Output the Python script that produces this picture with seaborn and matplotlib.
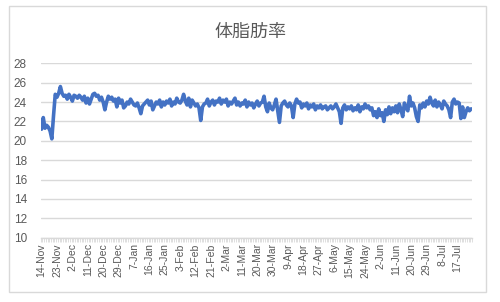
import matplotlib
matplotlib.use("Agg")
import matplotlib.pyplot as plt
import seaborn as sns
import pandas as pd
from matplotlib.patches import Rectangle

title = "体脂肪率"
start_date = "2018-11-14"
missing_dates = ["2019-03-25", "2019-04-04"]
y_ticks = [10, 12, 14, 16, 18, 20, 22, 24, 26, 28]
label_step = 9

body_fat = [
    21.2, 22.4, 21.3, 21.6, 21.4, 21.0, 20.2, 22.6, 24.8, 24.5, 24.9, 25.6,
    24.9, 24.6, 24.7, 24.3, 24.8, 24.5, 24.1, 24.7, 24.6, 24.4, 24.7, 24.5,
    24.2, 24.6, 23.9, 24.4, 23.8, 24.3, 24.8, 24.9, 24.6, 24.7, 24.2, 24.5,
    24.0, 23.2, 24.0, 24.6, 24.3, 24.5, 24.1, 24.3, 23.5, 24.4, 23.9, 24.2,
    23.4, 23.6, 24.0, 23.8, 24.3, 24.0, 23.7, 23.6, 23.9, 23.4, 22.8, 23.6,
    23.8, 24.0, 24.2, 23.7, 24.1, 23.2, 23.6, 24.0, 23.8, 24.2, 23.5, 24.0,
    23.7, 24.1, 23.9, 24.3, 23.6, 24.0, 23.8, 24.4, 24.0, 23.9, 24.2, 24.8,
    24.1, 23.7, 24.4, 23.5, 24.2, 23.9, 23.6, 23.8, 23.4, 22.1, 23.5, 23.8,
    23.9, 24.3, 23.6, 24.0, 24.2, 23.7, 24.1, 24.0, 24.4, 23.8, 24.2, 24.0,
    24.3, 23.6, 24.0, 23.8, 24.1, 24.4, 23.7, 24.0, 23.6, 23.9, 23.8, 24.2,
    23.5, 24.0, 23.7, 23.9, 23.4, 23.8, 24.1, 23.6, 23.9, 24.0, 24.6, 23.5,
    23.0, 23.9, 23.4, 23.2, 23.7, 24.3, 23.1, 21.9, 23.6, 23.9, 24.1, 23.7,
    23.5, 23.9, 23.6, 22.4, 23.8, 24.3, 23.9, 24.0, 23.4, 23.8, 23.6, 23.9,
    23.3, 23.7, 23.5, 23.8, 23.2, 23.6, 23.4, 23.7, 23.3, 23.5, 23.6, 23.2,
    23.4, 23.6, 23.3, 23.5, 23.8, 23.4, 23.0, 21.8, 23.4, 23.7, 23.2, 23.5,
    23.3, 23.6, 23.1, 23.4, 23.2, 23.7, 23.0, 23.5, 23.3, 23.8, 23.4, 23.6,
    23.2, 23.4, 22.6, 23.0, 22.4, 23.3, 22.6, 22.9, 22.0, 23.2, 22.7, 23.5,
    22.8, 23.4, 23.0, 23.6, 22.9, 23.8, 23.2, 22.5, 23.9, 23.4, 23.1, 24.6,
    23.6, 23.9, 23.4, 22.5, 22.0, 23.7, 23.4, 23.9, 23.5, 24.1, 23.8, 24.5,
    23.9, 23.6, 24.2, 23.5, 24.0, 23.7, 23.3, 24.1, 23.8, 23.6, 23.2, 22.4,
    24.0, 24.3, 23.8, 24.0, 23.9, 22.3, 23.5, 22.4, 23.0, 23.4, 23.1, 23.3,
]

# category dates (two days missing in the source data)
all_days = pd.date_range(start_date, periods=len(body_fat) + len(missing_dates), freq="D")
all_days = all_days[~all_days.isin(pd.to_datetime(missing_dates))]
date_labels = [f"{d.day}-{d.strftime('%b')}" for d in all_days]

df = pd.DataFrame({"idx": range(len(body_fat)), "date": date_labels, "value": body_fat})

sns.set_theme(style="white")
plt.rcParams["font.family"] = ["Liberation Sans", "Noto Sans CJK JP", "DejaVu Sans"]

fig = plt.figure(figsize=(5.0, 3.02), dpi=100)
ax = fig.add_axes([0.0814, 0.2129, 0.8626, 0.5775])

sns.lineplot(data=df, x="idx", y="value", ax=ax, color="#4472C4", linewidth=2.6)

grid_c = "#D9D9D9"
text_c = "#595959"
ax.set_ylim(10, 28)
ax.set_yticks(y_ticks)
ax.set_yticklabels([str(v) for v in y_ticks], fontsize=8.5, color=text_c)
ax.yaxis.grid(True, color=grid_c, linewidth=1.0)
ax.set_axisbelow(True)

n = len(body_fat)
ax.set_xlim(-0.5, n - 0.5)
tick_pos = list(range(0, n, label_step))
ax.set_xticks(tick_pos)
ax.set_xticklabels([date_labels[i] for i in tick_pos], rotation=90, fontsize=7.5, color=text_c)
ax.set_xticks([i - 0.5 for i in range(n + 1)], minor=True)
ax.tick_params(axis="x", which="major", length=0, pad=4)
ax.tick_params(axis="x", which="minor", length=3, color=grid_c, width=0.6, bottom=True)
ax.tick_params(axis="y", length=0, pad=10)
ax.set_xlabel("")
ax.set_ylabel("")

for s in ["top", "right", "left"]:
    ax.spines[s].set_visible(False)
ax.spines["bottom"].set_color(grid_c)
ax.spines["bottom"].set_linewidth(1.0)

fig.text(0.5, 0.895, title, ha="center", va="center", fontsize=13,
         color=text_c, family=["Noto Sans CJK JP", "DejaVu Sans"])

fig.patches.append(Rectangle((9 / 500, 1 - 292 / 302), (486 - 9) / 500, (292 - 6) / 302,
                             transform=fig.transFigure, fill=False,
                             edgecolor=grid_c, linewidth=1.0))

fig.savefig("out.png", dpi=100)
